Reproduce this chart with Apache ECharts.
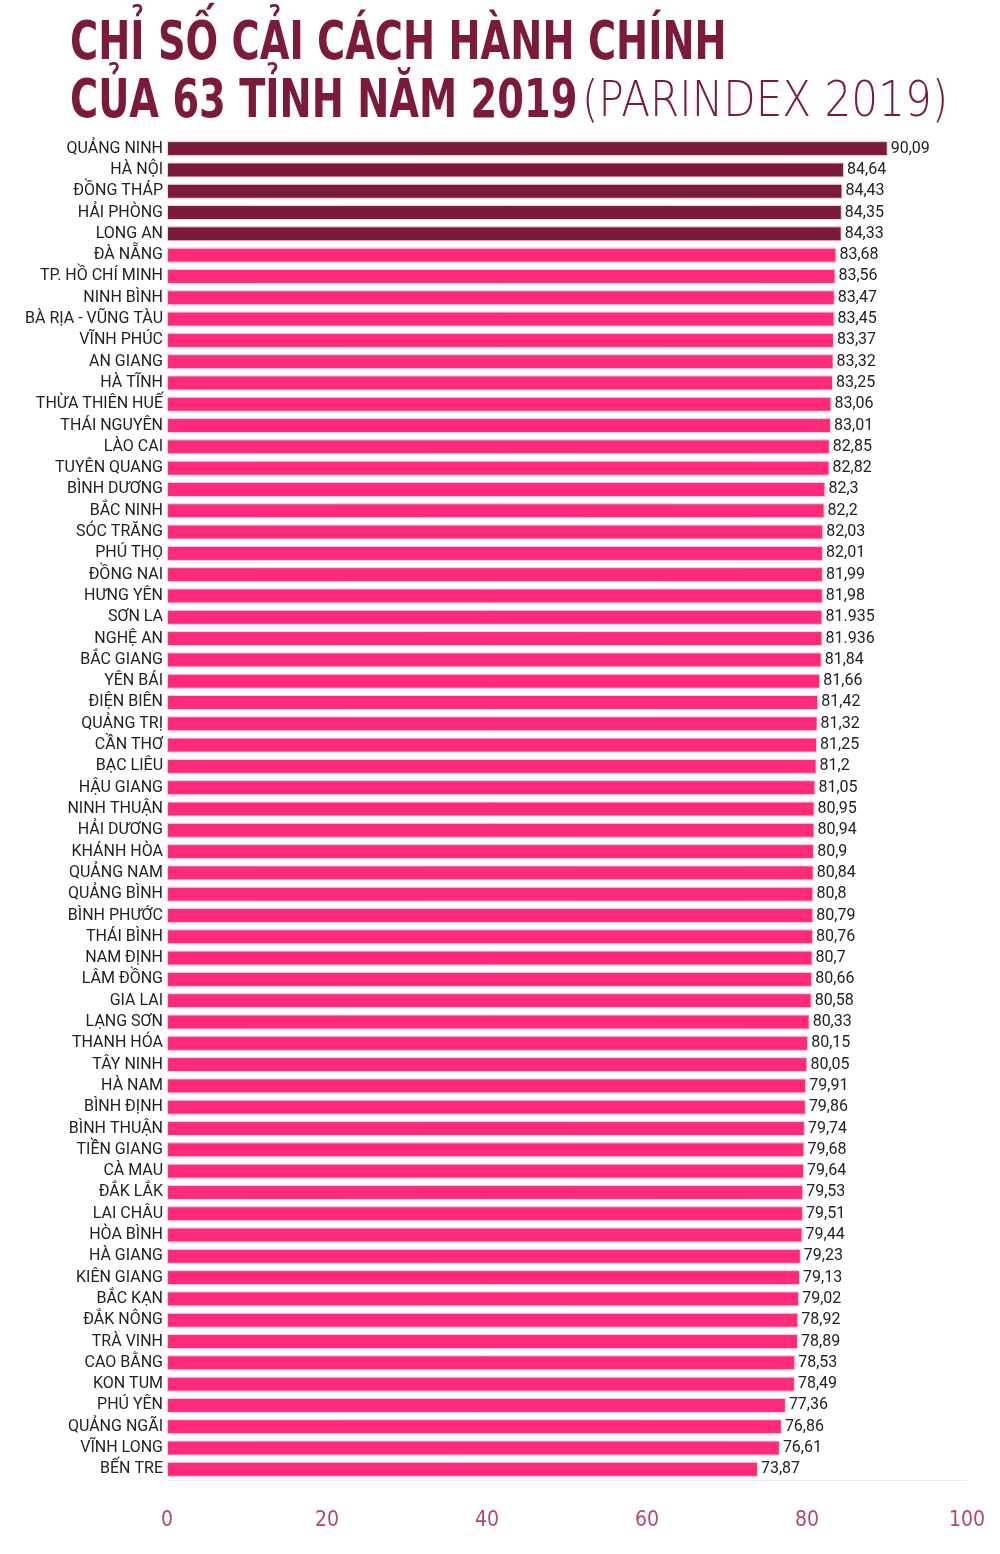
<!DOCTYPE html>
<html>
<head>
<meta charset="utf-8">
<script src="https://cdn.jsdelivr.net/npm/echarts@6/dist/echarts.min.js"></script>
<style>
  html, body { margin: 0; padding: 0; background: #fff; }
  #chart { width: 1000px; height: 1554px; }
</style>
</head>
<body>
<div id="chart"></div>
<script>
// tên 63 tỉnh, xếp theo điểm
var provinces = ['QUẢNG NINH', 'HÀ NỘI', 'ĐỒNG THÁP', 'HẢI PHÒNG', 'LONG AN', 'ĐÀ NẴNG', 'TP. HỒ CHÍ MINH',
    'NINH BÌNH', 'BÀ RỊA - VŨNG TÀU', 'VĨNH PHÚC', 'AN GIANG', 'HÀ TĨNH', 'THỪA THIÊN HUẾ', 'THÁI NGUYÊN',
    'LÀO CAI', 'TUYÊN QUANG', 'BÌNH DƯƠNG', 'BẮC NINH', 'SÓC TRĂNG', 'PHÚ THỌ', 'ĐỒNG NAI', 'HƯNG YÊN',
    'SƠN LA', 'NGHỆ AN', 'BẮC GIANG', 'YÊN BÁI', 'ĐIỆN BIÊN', 'QUẢNG TRỊ', 'CẦN THƠ', 'BẠC LIÊU',
    'HẬU GIANG', 'NINH THUẬN', 'HẢI DƯƠNG', 'KHÁNH HÒA', 'QUẢNG NAM', 'QUẢNG BÌNH', 'BÌNH PHƯỚC',
    'THÁI BÌNH', 'NAM ĐỊNH', 'LÂM ĐỒNG', 'GIA LAI', 'LẠNG SƠN', 'THANH HÓA', 'TÂY NINH', 'HÀ NAM',
    'BÌNH ĐỊNH', 'BÌNH THUẬN', 'TIỀN GIANG', 'CÀ MAU', 'ĐẮK LẮK', 'LAI CHÂU', 'HÒA BÌNH', 'HÀ GIANG',
    'KIÊN GIANG', 'BẮC KẠN', 'ĐẮK NÔNG', 'TRÀ VINH', 'CAO BẰNG', 'KON TUM', 'PHÚ YÊN', 'QUẢNG NGÃI',
    'VĨNH LONG', 'BẾN TRE'];

var scores = [90.09, 84.64, 84.43, 84.35, 84.33, 83.68, 83.56,
    83.47, 83.45, 83.37, 83.32, 83.25, 83.06, 83.01,
    82.85, 82.82, 82.3, 82.2, 82.03, 82.01, 81.99, 81.98,
    81.935, 81.936, 81.84, 81.66, 81.42, 81.32, 81.25, 81.2,
    81.05, 80.95, 80.94, 80.9, 80.84, 80.8, 80.79,
    80.76, 80.7, 80.66, 80.58, 80.33, 80.15, 80.05, 79.91,
    79.86, 79.74, 79.68, 79.64, 79.53, 79.51, 79.44, 79.23,
    79.13, 79.02, 78.92, 78.89, 78.53, 78.49, 77.36, 76.86,
    76.61, 73.87];

// nhãn số giữ nguyên cách viết trong ảnh gốc
var scoreLabels = ['90,09', '84,64', '84,43', '84,35', '84,33', '83,68', '83,56',
    '83,47', '83,45', '83,37', '83,32', '83,25', '83,06', '83,01',
    '82,85', '82,82', '82,3', '82,2', '82,03', '82,01', '81,99', '81,98',
    '81.935', '81.936', '81,84', '81,66', '81,42', '81,32', '81,25', '81,2',
    '81,05', '80,95', '80,94', '80,9', '80,84', '80,8', '80,79',
    '80,76', '80,7', '80,66', '80,58', '80,33', '80,15', '80,05', '79,91',
    '79,86', '79,74', '79,68', '79,64', '79,53', '79,51', '79,44', '79,23',
    '79,13', '79,02', '78,92', '78,89', '78,53', '78,49', '77,36', '76,86',
    '76,61', '73,87'];

var xTicks = [0, 20, 40, 60, 80, 100];
var topCount = 5; // 5 tỉnh đứng đầu tô màu đậm

var chart = echarts.init(document.getElementById('chart'));

var barData = [];
for (var i = 0; i < scores.length; i++) {
    barData.push({
        value: scores[i],
        itemStyle: { color: i < topCount ? '#7b1a3d' : '#ff2a7b' }
    });
}

var option = {
    backgroundColor: '#ffffff',
    // tiêu đề: chữ đậm bị nén ngang cho giống font condensed
    graphic: [
        {
            type: 'text', left: 70, top: 18, scaleX: 0.79,
            style: {
                text: 'CHỈ SỐ CẢI CÁCH HÀNH CHÍNH',
                font: 'bold 54px "DejaVu Sans Condensed"',
                fill: '#7b1a3d'
            }
        },
        {
            type: 'text', left: 70, top: 76, scaleX: 0.79,
            style: {
                text: 'CỦA 63 TỈNH NĂM 2019',
                font: 'bold 54px "DejaVu Sans Condensed"',
                fill: '#7b1a3d'
            }
        },
        {
            type: 'text', left: 582, top: 79, scaleX: 0.86,
            style: {
                text: '(PARINDEX 2019)',
                font: '200 49px "DejaVu Sans"',
                fill: '#7b1a3d'
            }
        }
    ],
    grid: {
        left: 167,
        right: 33,
        top: 138,
        height: 1342
    },
    xAxis: {
        type: 'value',
        min: 0,
        max: 100,
        interval: 20,
        axisLine: { show: true, lineStyle: { color: '#ececec' } },
        axisTick: { show: false },
        splitLine: { show: false },
        axisLabel: {
            margin: 30,
            fontFamily: 'DejaVu Sans Condensed',
            fontWeight: 200,
            fontSize: 21,
            color: '#b3467a',
            formatter: function (v) { return xTicks.indexOf(v) >= 0 ? String(v) : ''; }
        }
    },
    yAxis: {
        type: 'category',
        inverse: true,
        data: provinces,
        axisLine: { show: false },
        axisTick: { show: false },
        axisLabel: {
            margin: 4,
            fontFamily: 'Roboto',
            fontSize: 16,
            color: '#222'
        }
    },
    series: [{
        type: 'bar',
        data: barData,
        barWidth: 15,
        itemStyle: {
            borderColor: '#f6d3df',
            borderWidth: 1
        },
        label: {
            show: true,
            position: 'right',
            distance: 3,
            fontFamily: 'Roboto',
            fontSize: 16,
            color: '#222',
            formatter: function (p) { return scoreLabels[p.dataIndex]; }
        }
    }]
};

chart.setOption(option);
</script>
</body>
</html>
